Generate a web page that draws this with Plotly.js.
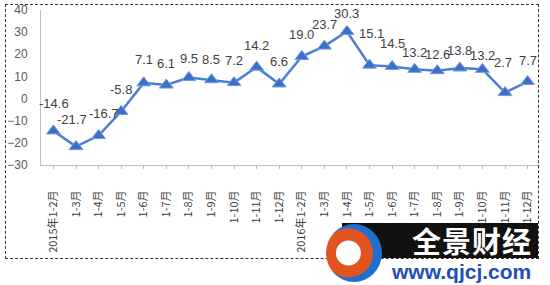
<!DOCTYPE html>
<html><head><meta charset="utf-8">
<script src="https://cdn.plot.ly/plotly-3.0.1.min.js"></script>
<style>
html,body{margin:0;padding:0;background:#fff;}
#wrap{position:relative;width:550px;height:285px;overflow:hidden;}
#chart{position:absolute;left:0;top:0;width:550px;height:285px;}
#border{position:absolute;left:5px;top:4px;width:532px;height:253px;border:1px dashed #333;pointer-events:none;}
#logoBox{position:absolute;left:342px;top:223px;width:196px;height:35px;background:#111;color:#fff;
 font-family:"Noto Sans CJK SC";font-weight:bold;font-size:29px;line-height:35px;text-align:right;padding-right:6px;box-sizing:border-box;letter-spacing:1px;}
#logoUrl{position:absolute;left:392px;top:260px;width:150px;height:24px;background:#fff;color:#1f4fb8;
 font-family:"Liberation Sans";font-weight:bold;font-size:21px;line-height:24px;}
#logoCircle{position:absolute;left:326px;top:224px;width:56px;height:58px;border-radius:50%;
 background:radial-gradient(circle at 40% 50%, #fff 0 12px, #e2531f 13px 24px, #1f6fd0 25px);}
</style></head>
<body><div id="wrap"><div id="chart"></div><div id="border"></div>
<div id="logoBox">全景财经</div><div id="logoCircle"></div><div id="logoUrl">www.qjcj.com</div></div>
<script>
const categories = ["2015年1-2月","1-3月","1-4月","1-5月","1-6月","1-7月","1-8月","1-9月","1-10月","1-11月","1-12月",
  "2016年1-2月","1-3月","1-4月","1-5月","1-6月","1-7月","1-8月","1-9月","1-10月","1-11月","1-12月"];
const values = [-14.6,-21.7,-16.7,-5.8,7.1,6.1,9.5,8.5,7.2,14.2,6.6,19.0,23.7,30.3,15.1,14.5,13.2,12.6,13.8,13.2,2.7,7.7];
const labels = values.map(v => v.toFixed(1));
const idx = categories.map((c,i)=>i);
// label placement (style): pixel offsets of each label from its point
const labelLift = [27,27,22,22,23,22,19,20,22,22,22,22,22,18,32,23,17,16,18,14,30,21];
const labelSlide = [1,-4,5,0,0,0,0,0,0,0,0,0,0,0,2,0,0,0,0,0,-2,0];

const trace = {
  x: idx, y: values, type:'scatter', mode:'lines+markers',
  line:{color:'#4a7fd3', width:2.5},
  marker:{symbol:'triangle-up', size:12, color:'#3b6fc9', line:{color:'#6f9be0', width:1}},
  cliponaxis:false, hoverinfo:'none'
};
const annotations = idx.map(i => ({
  x: i, y: values[i], xref:'x', yref:'y', text: labels[i], showarrow:false,
  yshift:labelLift[i], xshift:labelSlide[i],
  font:{family:'Liberation Sans, Arial', size:13, color:'#404040'}
}));
const layout = {
  width:550, height:285, margin:{l:41, r:10, t:10, b:120},
  paper_bgcolor:'rgba(0,0,0,0)', plot_bgcolor:'#fff', showlegend:false, annotations,
  xaxis:{range:[-0.55, categories.length-0.45], tickvals:idx, ticktext:categories, tickangle:-90,
    showgrid:false, zeroline:false, showline:true, linecolor:'#bfbfbf', linewidth:1,
    ticks:'outside', ticklen:3, tickcolor:'#bfbfbf',
    tickfont:{family:'Noto Sans CJK SC', size:11, color:'#404040'}, ticklabelstandoff:17},
  yaxis:{range:[-30,40], dtick:10, showgrid:false, zeroline:false, showline:true, linecolor:'#bfbfbf', linewidth:1,
    ticks:'', tickfont:{family:'Liberation Sans, Arial', size:12, color:'#595959'}, ticklabelstandoff:10}
};
Plotly.newPlot('chart',[trace],layout,{staticPlot:true});
</script></body></html>
